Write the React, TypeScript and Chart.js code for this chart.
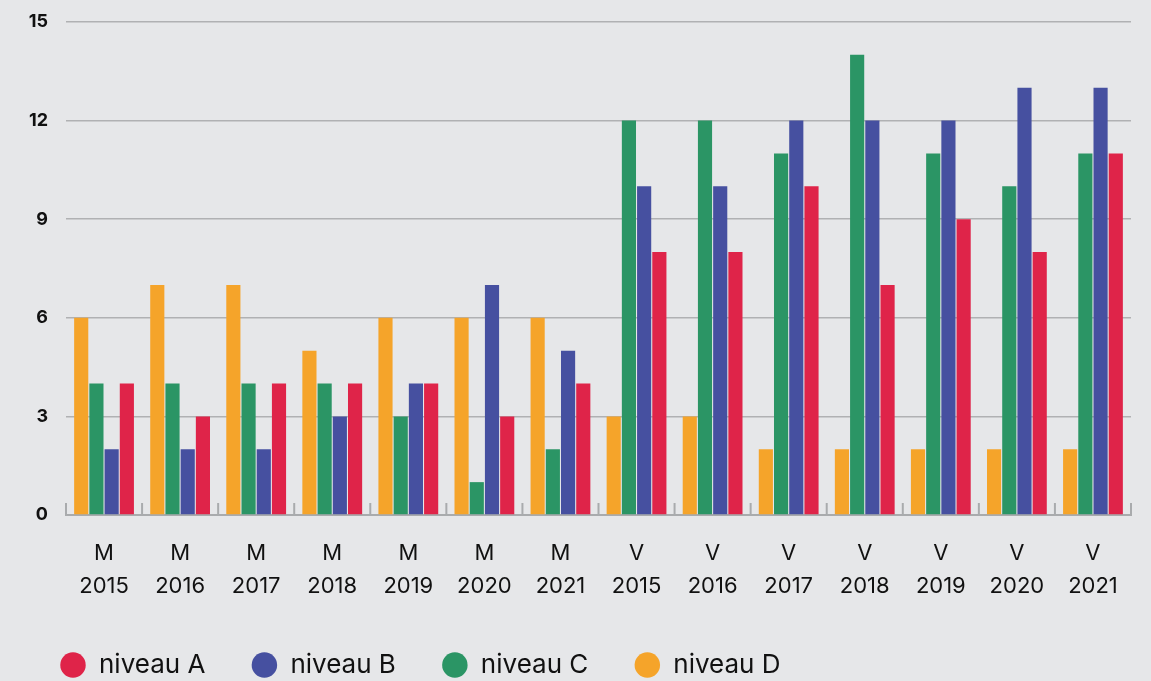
import React, { useEffect, useRef } from "react";
import { Chart, registerables } from "chart.js";

Chart.register(...registerables);

const categories: string[][] = [
  ["M", "2015"], ["M", "2016"], ["M", "2017"], ["M", "2018"], ["M", "2019"], ["M", "2020"], ["M", "2021"],
  ["V", "2015"], ["V", "2016"], ["V", "2017"], ["V", "2018"], ["V", "2019"], ["V", "2020"], ["V", "2021"],
];
const niveauD = [6, 7, 7, 5, 6, 6, 6, 3, 3, 2, 2, 2, 2, 2];
const niveauC = [4, 4, 4, 4, 3, 1, 2, 12, 12, 11, 14, 11, 10, 11];
const niveauB = [2, 2, 2, 3, 4, 7, 5, 10, 10, 12, 12, 12, 13, 13];
const niveauA = [4, 3, 4, 4, 4, 3, 4, 8, 8, 10, 7, 9, 8, 11];
const yTicks = [0, 3, 6, 9, 12, 15];

const BG = "#e6e7e9";
const FONT = "Inter, 'Noto Sans', sans-serif";
const LEGEND_HEIGHT = 75;

const upTicks = {
  id: "upTicks",
  beforeLayout(chart: any) {
    const lg = chart.legend;
    if (lg && !lg.__patched) {
      const orig = lg.fit.bind(lg);
      lg.fit = function () {
        orig();
        this.height = LEGEND_HEIGHT;
      };
      lg.__patched = true;
    }
  },
  afterDatasetsDraw(chart: any) {
    const x = chart.scales.x;
    const ctx = chart.ctx;
    const n = x.ticks.length;
    ctx.save();
    ctx.strokeStyle = "#a9abad";
    ctx.lineWidth = 2;
    for (let i = 0; i <= n; i++) {
      const px = x.getPixelForValue(i - 0.5);
      ctx.beginPath();
      ctx.moveTo(px, x.top);
      ctx.lineTo(px, x.top - 12);
      ctx.stroke();
    }
    ctx.restore();
  },
};

export default function App() {
  const ref = useRef<HTMLCanvasElement | null>(null);
  useEffect(() => {
    document.body.style.margin = "0";
    document.body.style.background = BG;
    const ds = (label: string, data: number[], color: string) => ({
      label,
      data,
      backgroundColor: color,
      borderWidth: 0,
      categoryPercentage: 0.8,
      barPercentage: 0.93,
    });
    const chart = new Chart(ref.current!, {
      type: "bar",
      data: {
        labels: categories,
        datasets: [
          ds("niveau D", niveauD, "#f5a42a"),
          ds("niveau C", niveauC, "#2b9565"),
          ds("niveau B", niveauB, "#4650a0"),
          ds("niveau A", niveauA, "#df2449"),
        ],
      },
      options: {
        animation: false,
        responsive: true,
        maintainAspectRatio: false,
        layout: { padding: { left: 14, right: 20, top: 22, bottom: 0 } },
        plugins: {
          tooltip: { enabled: false },
          legend: {
            position: "bottom",
            align: "start",
            reverse: true,
            labels: {
              usePointStyle: true,
              pointStyle: "circle",
              boxWidth: 26,
              boxHeight: 18,
              padding: 46,
              color: "#111",
              font: { family: FONT, size: 26 },
            },
          },
        },
        scales: {
          x: {
            afterFit(scale: any) { scale.height = scale.height - 19; },
            grid: { display: false, drawTicks: false },
            border: { display: true, color: "#a9abad", width: 2 },
            ticks: {
              color: "#111",
              padding: 22,
              font: { family: FONT, size: 22, lineHeight: 1.5 },
              maxRotation: 0,
              autoSkip: false,
            },
          },
          y: {
            min: 0,
            max: 15,
            afterFit(scale: any) {
              scale.width = 52;
              scale.paddingTop = 0;
              scale.paddingBottom = 0;
            },
            afterBuildTicks(scale: any) { scale.ticks = yTicks.map((v) => ({ value: v })); },
            grid: { color: "#b0b1b3", lineWidth: 1.5, drawTicks: false },
            border: { display: false },
            ticks: {
              color: "#111",
              padding: 18,
              font: { family: FONT, size: 18, weight: "bold" },
            },
          },
        },
      },
      plugins: [upTicks],
    });
    return () => chart.destroy();
  }, []);
  return (
    <div style={{ position: "relative", width: 1151, height: 681, background: BG }}>
      <canvas ref={ref} />
    </div>
  );
}
